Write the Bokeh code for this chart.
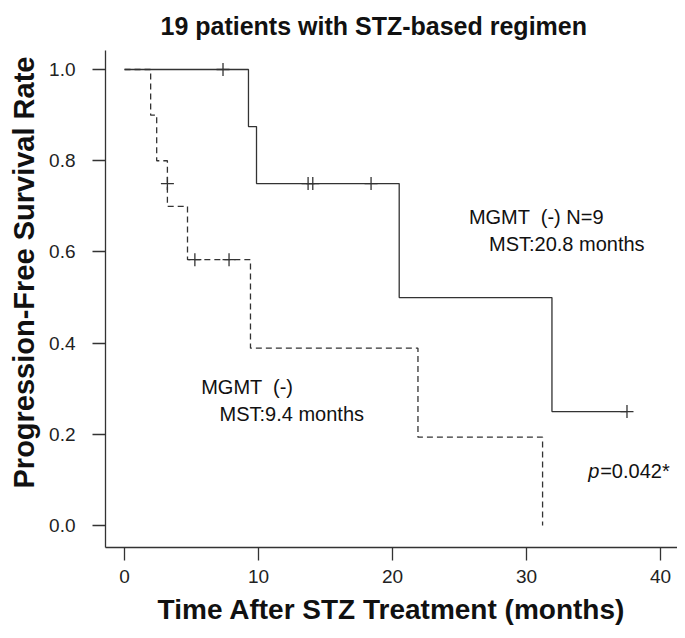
from bokeh.plotting import figure
from bokeh.models import Range1d, FixedTicker, Title, CustomJSTickFormatter
from bokeh.embed import file_html
from bokeh.resources import INLINE
from bokeh.core.properties import value

# ---------------- data ----------------
title_text = "19 patients with STZ-based regimen"
x_title = "Time After STZ Treatment (months)"
y_title = "Progression-Free Survival Rate"
x_ticks = [0, 10, 20, 30, 40]
y_ticks = [0.0, 0.2, 0.4, 0.6, 0.8, 1.0]

# solid curve: MGMT (-) N=9
solid_time = [0, 9.25, 9.85, 20.5, 31.9, 37.5]
solid_surv = [1.0, 0.875, 0.75, 0.5, 0.25, 0.25]
solid_cens_time = [7.35, 13.7, 14.05, 18.4, 37.5]
solid_cens_surv = [1.0, 0.75, 0.75, 0.75, 0.25]

# dashed curve: MGMT (-)
dash_time = [0, 1.95, 2.4, 3.2, 4.7, 9.4, 21.9, 31.2]
dash_surv = [1.0, 0.9, 0.8, 0.7, 0.583, 0.389, 0.194, 0.0]
dash_cens_time = [3.2, 5.25, 7.8]
dash_cens_surv = [0.75, 0.583, 0.583]

ann_texts = ["MGMT \u00a0(-) N=9", "MST:20.8 months", "MGMT \u00a0(-)", "MST:9.4 months"]
ann_x = [25.7, 27.2, 5.72, 7.09]
ann_y = [0.676, 0.617, 0.304, 0.245]

p_label = "p"
p_value = "=0.042*"
p_x = [34.6, 35.5]
p_y = 0.12

# ---------------- figure ----------------
FONT = "Liberation Sans"
INK = "#222222"
LINE = "#333333"

p = figure(width=677, height=630, output_backend="svg", toolbar_location=None,
           x_range=Range1d(-1.42, 41.27), y_range=Range1d(-0.048, 1.0417),
           min_border_left=105, min_border_right=0, min_border_top=50, min_border_bottom=83)
p.outline_line_color = None
p.grid.visible = False
p.background_fill_color = "white"

for ax in (p.xaxis[0], p.yaxis[0]):
    ax.axis_line_color = LINE
    ax.axis_line_width = 1.3
    ax.major_tick_line_color = LINE
    ax.major_tick_line_width = 1.3
    ax.major_tick_out = 13
    ax.major_tick_in = 0
    ax.minor_tick_line_color = None
    ax.major_label_text_font = FONT
    ax.major_label_text_font_size = "19px"
    ax.major_label_text_color = INK

p.xaxis[0].ticker = FixedTicker(ticks=x_ticks)
p.yaxis[0].ticker = FixedTicker(ticks=y_ticks)
p.yaxis[0].formatter = CustomJSTickFormatter(code="return tick.toFixed(1);")
p.xaxis[0].major_label_standoff = 9
p.yaxis[0].major_label_standoff = 17

p.xaxis[0].axis_label = x_title
p.xaxis[0].axis_label_text_font = FONT
p.xaxis[0].axis_label_text_font_size = "28px"
p.xaxis[0].axis_label_text_font_style = "bold"
p.xaxis[0].axis_label_text_color = "#111111"
p.xaxis[0].axis_label_standoff = 8

# title (top) and y-axis title (left) as Title panels with offsets
p.add_layout(Title(text=title_text, align="left", offset=55, standoff=19,
                   vertical_align="middle",
                   text_font=FONT, text_font_size="25px", text_font_style="bold",
                   text_color="#111111"), "above")
p.add_layout(Title(text=y_title, align="left", offset=59, standoff=10,
                   vertical_align="top",
                   text_font=FONT, text_font_size="29px", text_font_style="bold",
                   text_color="#111111"), "left")

# curves
p.step(dash_time, dash_surv, mode="after", line_color=LINE, line_width=1.3, line_dash="6 4")
p.step(solid_time, solid_surv, mode="after", line_color=LINE, line_width=1.3)
p.scatter(dash_cens_time, dash_cens_surv, marker="cross", size=13, line_color=LINE, line_width=1.3)
p.scatter(solid_cens_time, solid_cens_surv, marker="cross", size=13, line_color=LINE, line_width=1.3)

# annotations
p.text(x=ann_x, y=ann_y, text=ann_texts, text_font=value(FONT), text_font_size="20px",
       text_color="#111111", text_baseline="middle", text_align="left")
p.text(x=[p_x[0]], y=[p_y], text=[p_label], text_font=value(FONT), text_font_size="20px",
       text_font_style="italic", text_color="#111111", text_baseline="middle", text_align="left")
p.text(x=[p_x[1]], y=[p_y], text=[p_value], text_font=value(FONT), text_font_size="20px",
       text_color="#111111", text_baseline="middle", text_align="left")

open("out.html", "w").write(file_html(p, INLINE))
